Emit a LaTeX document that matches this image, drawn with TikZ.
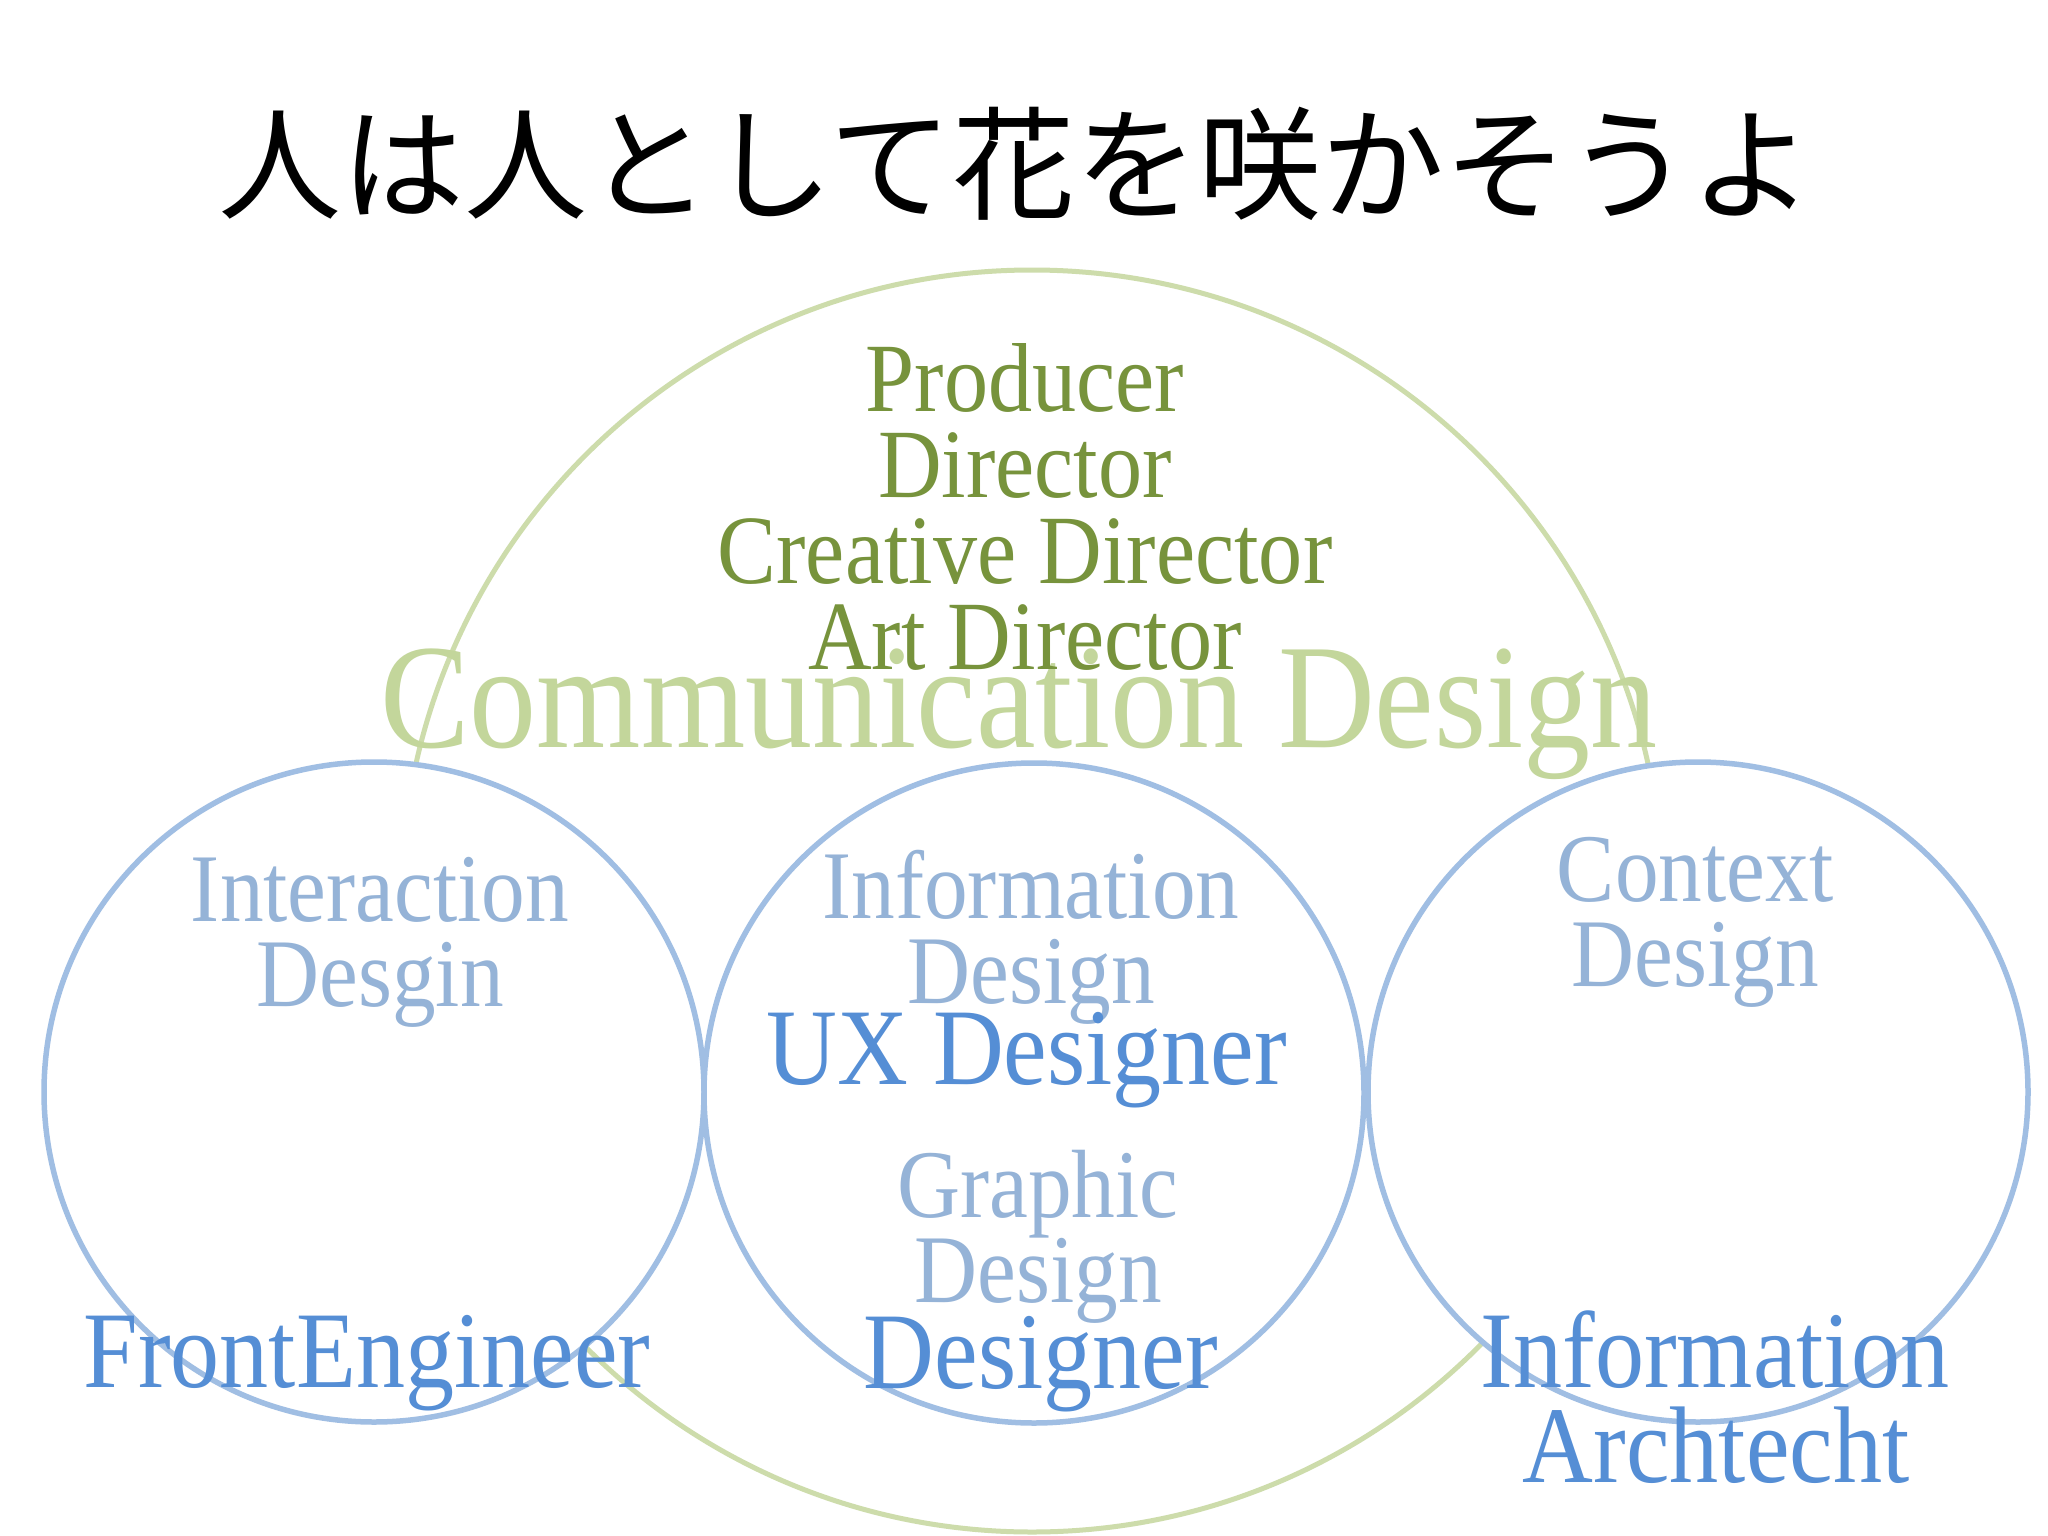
\documentclass[tikz,border=0pt]{standalone}
\usepackage{fontspec}
\setmainfont[FakeStretch=0.9]{Liberation Serif}
\newfontfamily\cjk{Noto Sans CJK JP}
\definecolor{cdark}{HTML}{77933C}
\definecolor{clight}{HTML}{C3D69B}
\definecolor{gline}{HTML}{CDDCAB}
\definecolor{blight}{HTML}{95B3D7}
\definecolor{bline}{HTML}{A0BEE3}
\definecolor{bdark}{HTML}{558ED5}
\tikzset{
  ring/.style={circle, draw, inner sep=0pt},
  greentxt/.style={text=cdark, anchor=base, inner sep=0pt, font=\fontsize{98}{98}\selectfont},
  comm/.style={text=clight, anchor=base, inner sep=0pt, font=\fontsize{149}{149}\selectfont},
  bluelt/.style={text=blight, anchor=base, inner sep=0pt, font=\fontsize{97}{97}\selectfont},
  bluedk/.style={text=bdark, anchor=base, inner sep=0pt, font=\fontsize{109}{109}\selectfont},
  titletxt/.style={text=black, anchor=base, inner sep=0pt, font=\cjk\fontsize{123}{123}\selectfont}
}
\begin{document}
\begin{tikzpicture}[x=1pt,y=-1pt]
\useasboundingbox (0,0) rectangle (2048,1536);
\fill[white] (0,0) rectangle (2048,1536);
% circles
\node[ring, draw=gline, line width=5pt, minimum size=1262pt] (comc) at (1032,901) {};
\node[ring, draw=bline, fill=white, line width=5.5pt, minimum size=660pt] (leftc) at (374,1092) {};
\node[ring, draw=bline, fill=white, line width=5.5pt, minimum size=660pt] (midc) at (1034,1093) {};
\node[ring, draw=bline, fill=white, line width=5.5pt, minimum size=660pt] (rightc) at (1698,1092) {};
% title
\node[titletxt] (title) at (1016,210) {人は人として花を咲かそうよ};
% communication design
\node[comm] (commd) at (1019,747) {Communication Design};
\node[greentxt] (prod) at (1025,411) {Producer};
\node[greentxt] (dir) at (1025,497) {Director};
\node[greentxt] (cdir) at (1025,583) {Creative Director};
\node[greentxt] (adir) at (1025,669) {Art Director};
% left circle
\node[bluelt] (inter) at (380,921) {Interaction};
\node[bluelt] (desgin) at (380,1006) {Desgin};
\node[bluedk] (front) at (367,1387) {FrontEngineer};
% middle circle
\node[bluelt] (info) at (1031,918) {Information};
\node[bluelt] (infod) at (1031,1003) {Design};
\node[bluedk] (ux) at (1027,1084) {UX Designer};
\node[bluelt] (graph) at (1038,1217) {Graphic};
\node[bluelt] (graphd) at (1038,1302) {Design};
\node[bluedk] (designer) at (1041,1388) {Designer};
% right circle
\node[bluelt] (ctx) at (1695,901) {Context};
\node[bluelt] (ctxd) at (1695,986) {Design};
\node[bluedk] (ia1) at (1715,1387) {Information};
\node[bluedk] (ia2) at (1716,1482) {Archtecht};
\end{tikzpicture}
\end{document}
